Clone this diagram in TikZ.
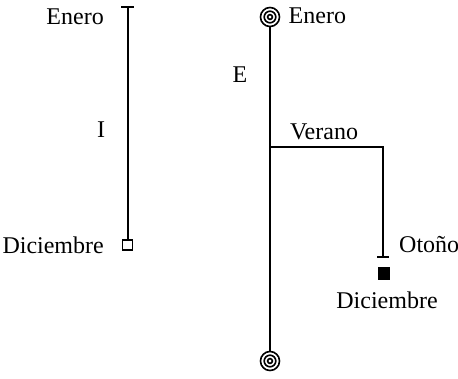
\documentclass[tikz,border=0pt]{standalone}
\usepackage{fontspec}
\setmainfont{Liberation Serif}
\begin{document}
\begin{tikzpicture}[x=1pt,y=-1pt,
  lbl/.style={inner sep=0pt,font=\fontsize{24}{28}\selectfont},
  ln/.style={line width=2pt},
  opensq/.style={draw,line width=1.6pt,minimum size=10pt,inner sep=0pt},
  fillsq/.style={fill=black,minimum size=12.5pt,inner sep=0pt},
  target/.style={circle,draw,line width=1.6pt,minimum size=19pt,inner sep=0pt}]
\useasboundingbox (0,0) rectangle (458,378);
% left timeline
\coordinate (lt) at (127.5,6.5);
\node[opensq] (lsq) at (127.5,245) {};
\draw[ln] (lt) -- (lsq.north);
\draw[ln] ([xshift=-6.5pt]lt) -- ([xshift=6.5pt]lt);
\node[lbl,anchor=east] (le) at (104,17) {Enero};
\node[lbl] (li) at (101,130) {I};
\node[lbl,anchor=east] (ld) at (104,245) {Diciembre};
% right timeline
\node[target] (t1) at (270,17) {};
\node[target] (t2) at (270,361) {};
\foreach \t in {t1,t2}{
  \draw[line width=1.6pt] (\t.center) circle (5.8pt);
  \draw[line width=1.6pt] (\t.center) circle (2.4pt);
}
\draw[ln] (t1.south) -- (t2.north);
\coordinate (br) at (270,147);
\coordinate (bc) at (383,147);
\coordinate (bt) at (383,257);
\draw[ln] (br) -- (bc) -- (bt);
\draw[ln] ([xshift=-6pt]bt) -- ([xshift=6pt]bt);
\node[fillsq] (rsq) at (384,273.5) {};
\node[lbl,anchor=west] (re) at (288.5,16) {Enero};
\node[lbl] (rE) at (240,75) {E};
\node[lbl] (rv) at (324,132) {Verano};
\node[lbl,anchor=west] (ro) at (399,245) {Otoño};
\node[lbl] (rd) at (387,300) {Diciembre};
\end{tikzpicture}
\end{document}
